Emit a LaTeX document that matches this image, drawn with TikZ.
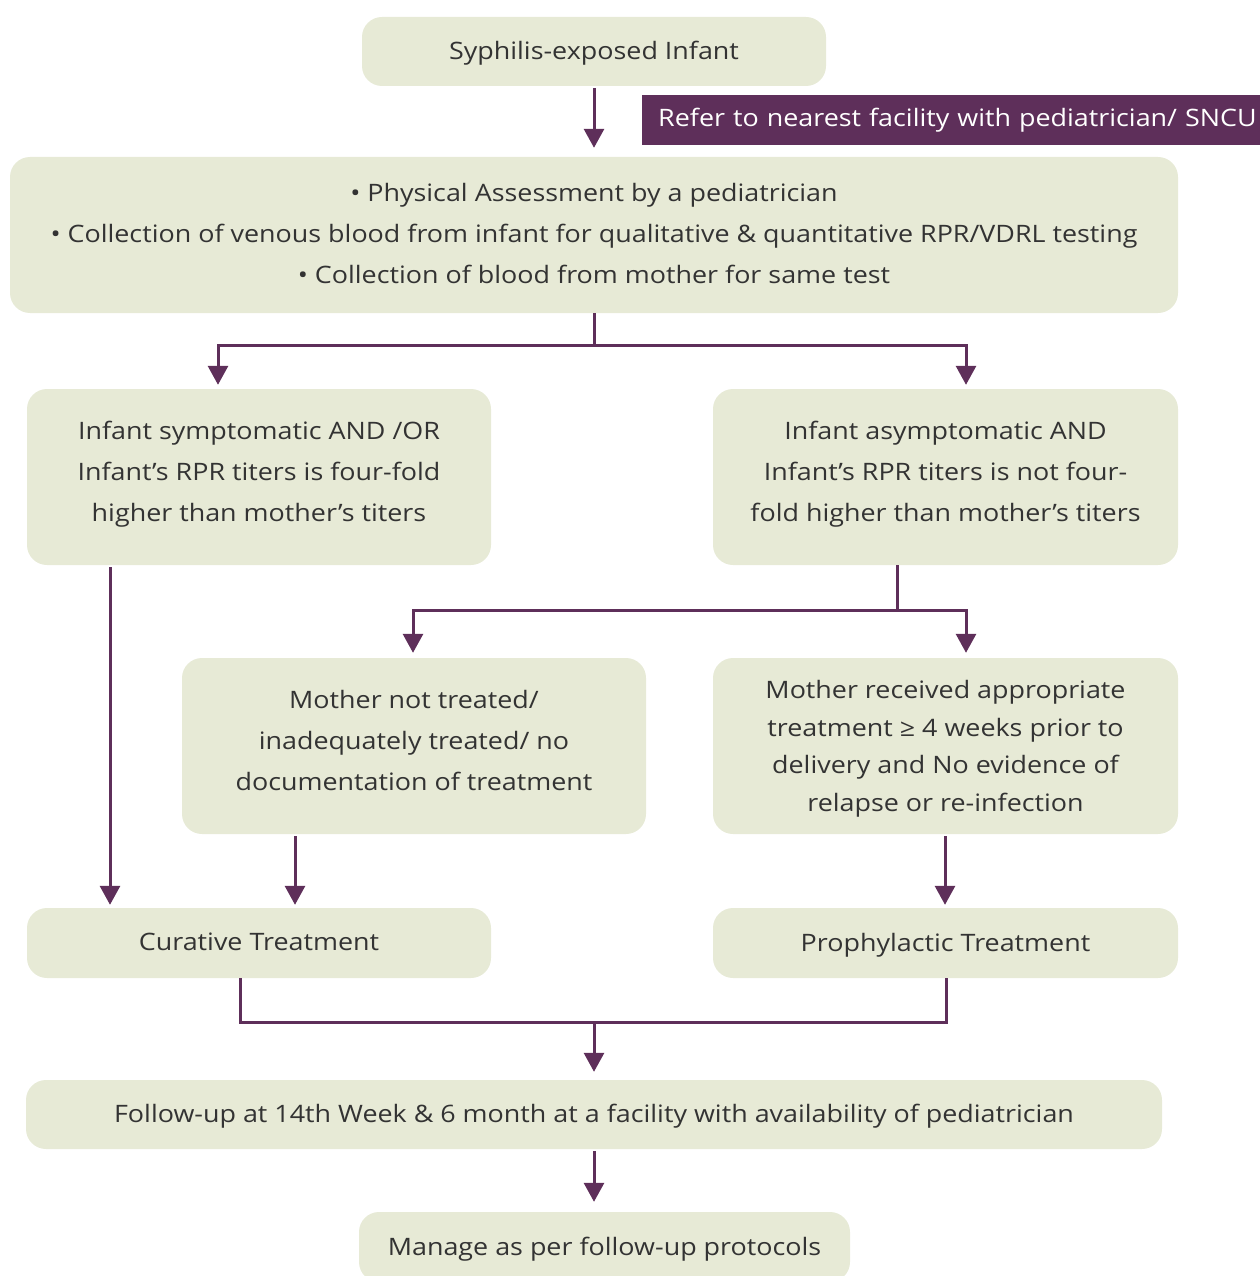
\documentclass[tikz,border=0pt]{standalone}
\usepackage{fontspec}
\setmainfont{Open Sans}[FakeStretch=1.12]
\usetikzlibrary{arrows.meta,calc}
\definecolor{boxfill}{HTML}{E7EAD6}
\definecolor{plum}{HTML}{5E2F5A}
\definecolor{ink}{HTML}{333333}
\begin{document}
\begin{tikzpicture}[x=1pt,y=-1pt,
  stepbox/.style={fill=boxfill, rounded corners=20pt, inner sep=0pt,
    align=center, text=ink, font=\fontsize{24}{41}\selectfont, text depth=2pt},
  arr/.style={draw=plum, line width=3pt, -{Triangle[length=19pt,width=20pt]}},
  ln/.style={draw=plum, line width=3pt}]
\useasboundingbox (0,0) rectangle (1259,1276);

% boxes
\node[stepbox, minimum width=464pt, minimum height=69pt] (start) at (594,51.5) {Syphilis-exposed Infant};
\node[fill=plum, inner xsep=16pt, inner ysep=0pt, text width=610pt, align=left,
  minimum height=50pt, anchor=west, text=white,
  font=\fontsize{24}{41}\selectfont] (refer) at (642,120) {Refer to nearest facility with pediatrician/ SNCU};
\node[stepbox, minimum width=1168pt, minimum height=156pt, text depth=3pt] (assess) at (594,235)
  {• Physical Assessment by a pediatrician\\
   • Collection of venous blood from infant for qualitative \& quantitative RPR/VDRL testing\\
   • Collection of blood from mother for same test};
\node[stepbox, minimum width=464pt, minimum height=176pt, text depth=11pt] (sympt) at (259,477)
  {Infant symptomatic AND /OR\\Infant’s RPR titers is four-fold\\higher than mother’s titers};
\node[stepbox, minimum width=465pt, minimum height=176pt, text depth=11pt] (asympt) at (945.5,477)
  {Infant asymptomatic AND\\Infant’s RPR titers is not four-\\fold higher than mother’s titers};
\node[stepbox, minimum width=464pt, minimum height=176pt, text depth=11pt] (notreat) at (414,746)
  {Mother not treated/\\inadequately treated/ no\\documentation of treatment};
\node[stepbox, minimum width=465pt, minimum height=176pt, text depth=0pt,
  font=\fontsize{24}{37.5}\selectfont] (treated) at (945.5,746)
  {Mother received appropriate\\treatment ≥ 4 weeks prior to\\delivery and No evidence of\\relapse or re-infection};
\node[stepbox, minimum width=464pt, minimum height=70pt] (cure) at (259,943) {Curative Treatment};
\node[stepbox, minimum width=465pt, minimum height=70pt] (proph) at (945.5,943) {Prophylactic Treatment};
\node[stepbox, minimum width=1136pt, minimum height=69pt] (follow) at (594,1114.5)
  {Follow-up at 14th Week \& 6 month at a facility with availability of pediatrician};
\node[stepbox, minimum width=491pt, minimum height=70pt] (manage) at (604.5,1247)
  {Manage as per follow-up protocols};

% connectors
\draw[arr, shorten <=2pt, shorten >=9pt] (start.south) -- (assess.north);
\coordinate (split1) at ($(assess.south)+(0,32)$);
\draw[ln] (assess.south) -- (split1);
\draw[arr, shorten >=4pt] (split1) -| ([xshift=-41pt]sympt.north);
\draw[arr, shorten >=4pt] (split1) -| ([xshift=20.5pt]asympt.north);
\draw[arr, shorten <=2pt, shorten >=3pt] ([xshift=-149pt]sympt.south) -- ([xshift=-149pt]cure.north);
\coordinate (split2) at ($([xshift=-48.5pt]asympt.south)+(0,45)$);
\draw[ln] ([xshift=-48.5pt]asympt.south) -- (split2);
\draw[arr, shorten >=5pt] (split2) -| ([xshift=-1pt]notreat.north);
\draw[arr, shorten >=5pt] (split2) -| ([xshift=20.5pt]treated.north);
\draw[arr, shorten <=2pt, shorten >=3pt] ([xshift=-119pt]notreat.south) -- ([xshift=-119pt]notreat.south |- cure.north);
\draw[arr, shorten <=2pt, shorten >=3pt] ([xshift=-0.5pt]treated.south) -- ([xshift=-0.5pt]proph.north);
\coordinate (merge) at (594,1022);
\draw[ln] ([xshift=-19pt]cure.south) |- (merge) -| ([xshift=0.5pt]proph.south);
\draw[arr, shorten >=8pt] (merge) -- (merge |- follow.north);
\draw[arr, shorten <=2pt, shorten >=10pt] (follow.south) -- (follow.south |- manage.north);
\end{tikzpicture}
\end{document}
